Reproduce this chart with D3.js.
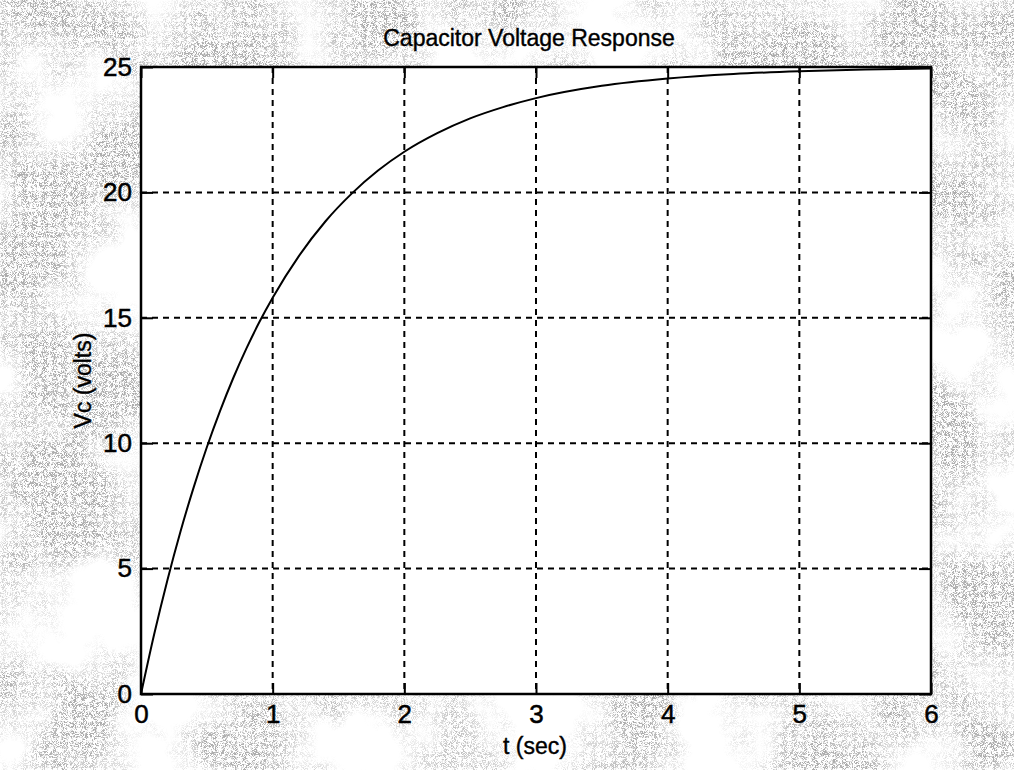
<!DOCTYPE html>
<html>
<head>
<meta charset="utf-8">
<script src="https://cdn.jsdelivr.net/npm/d3@7"></script>
<style>
  body { margin: 0; background: #fff; }
  svg { display: block; font-family: Arial, "Liberation Sans", sans-serif; }
  .tick text { font-family: "Liberation Sans Narrow", Arial, sans-serif; font-size: 26px; fill: #000; stroke: #000; stroke-width: 0.5px; }
  .tick line { stroke: #000; stroke-width: 2px; }
  .lbl { fill: #000; stroke: #000; stroke-width: 0.4px; }
</style>
</head>
<body>
<div id="chart-area"></div>
<script>
// values
const timeSec = [0, 0.1, 0.2, 0.3, 0.4, 0.5, 0.6, 0.7, 0.8, 0.9, 1.0,
  1.2, 1.4, 1.6, 1.8, 2.0, 2.25, 2.5, 2.75, 3.0, 3.5, 4.0, 4.5, 5.0, 5.5, 6.0]
const vcVolts = [0, 2.38, 4.53, 6.48, 8.24, 9.84, 11.28, 12.59, 13.77, 14.84, 15.80,
  17.47, 18.84, 19.95, 20.87, 21.62, 22.36, 22.95, 23.40, 23.76, 24.25, 24.54, 24.72, 24.83, 24.90, 24.94]
const xTicks = [0, 1, 2, 3, 4, 5, 6]
const yTicks = [0, 5, 10, 15, 20, 25]
const titleText = "Capacitor Voltage Response"
const xLabel = "t (sec)"
const yLabel = "Vc (volts)"

const W = 1014
const H = 770
const MARGIN = { LEFT: 141, RIGHT: 83, TOP: 67, BOTTOM: 76 }
const WIDTH = W - MARGIN.LEFT - MARGIN.RIGHT
const HEIGHT = H - MARGIN.TOP - MARGIN.BOTTOM

const svg = d3.select("#chart-area").append("svg")
  .attr("width", W)
  .attr("height", H)

// mottled scanned-paper background
const defs = svg.append("defs")
const f = defs.append("filter").attr("id", "tex")
  .attr("x", 0).attr("y", 0).attr("width", 1).attr("height", 1)
f.append("feTurbulence").attr("type", "fractalNoise")
  .attr("baseFrequency", 0.009).attr("numOctaves", 4).attr("seed", 7).attr("result", "blot")
f.append("feColorMatrix").attr("in", "blot").attr("type", "matrix")
  .attr("values", "0 0 0 0 0.42  0 0 0 0 0.42  0 0 0 0 0.42  3.6 0 0 0 -1.3")
  .attr("result", "blotA")
f.append("feTurbulence").attr("type", "turbulence")
  .attr("baseFrequency", 0.9).attr("numOctaves", 1).attr("seed", 2).attr("result", "grain")
f.append("feColorMatrix").attr("in", "grain").attr("type", "matrix")
  .attr("values", "0 0 0 0 0  0 0 0 0 0  0 0 0 0 0  5 0 0 0 -0.5")
  .attr("result", "grainA")
f.append("feComposite").attr("in", "blotA").attr("in2", "grainA").attr("operator", "in")

svg.append("rect").attr("width", W).attr("height", H).attr("fill", "#fff")
svg.append("rect").attr("width", W).attr("height", H).attr("filter", "url(#tex)")

const g = svg.append("g")
  .attr("transform", `translate(${MARGIN.LEFT}, ${MARGIN.TOP})`)

// scales
const x = d3.scaleLinear().domain([0, 6]).range([0, WIDTH])
const y = d3.scaleLinear().domain([0, 25]).range([HEIGHT, 0])

// plot box
g.append("rect")
  .attr("width", WIDTH)
  .attr("height", HEIGHT)
  .attr("fill", "#fff")

// dashed grid
g.append("g").selectAll("line").data(xTicks.slice(1, -1)).join("line")
  .attr("x1", d => x(d)).attr("x2", d => x(d))
  .attr("y1", 0).attr("y2", HEIGHT)
  .attr("stroke", "#000").attr("stroke-width", 2)
  .attr("stroke-dasharray", "6,5")
g.append("g").selectAll("line").data(yTicks.slice(1, -1)).join("line")
  .attr("x1", 0).attr("x2", WIDTH)
  .attr("y1", d => y(d)).attr("y2", d => y(d))
  .attr("stroke", "#000").attr("stroke-width", 2)
  .attr("stroke-dasharray", "6,5")

// axes with inward ticks
const xAxis = g.append("g")
  .attr("transform", `translate(0, ${HEIGHT})`)
  .call(d3.axisBottom(x).tickValues(xTicks).tickSize(-11).tickPadding(11).tickFormat(d3.format("d")))
const yAxis = g.append("g")
  .call(d3.axisLeft(y).tickValues(yTicks).tickSize(-12).tickPadding(9).tickFormat(d3.format("d")))
g.append("g")
  .call(d3.axisTop(x).tickValues(xTicks).tickSize(-11).tickFormat(""))
g.append("g")
  .attr("transform", `translate(${WIDTH}, 0)`)
  .call(d3.axisRight(y).tickValues(yTicks).tickSize(-12).tickFormat(""))
g.selectAll(".domain").remove()
xAxis.selectAll("text").attr("dy", "0.71em")

// response curve
const line = d3.line()
  .x((d, i) => x(timeSec[i]))
  .y(d => y(d))
  .curve(d3.curveMonotoneX)

g.append("path")
  .attr("fill", "none")
  .attr("stroke", "#000")
  .attr("stroke-width", 2)
  .attr("d", line(vcVolts))

// frame
g.append("rect")
  .attr("width", WIDTH)
  .attr("height", HEIGHT)
  .attr("fill", "none")
  .attr("stroke", "#000")
  .attr("stroke-width", 2.5)

// labels
svg.append("text")
  .attr("class", "lbl")
  .attr("x", MARGIN.LEFT + WIDTH / 2 - 7)
  .attr("y", 46)
  .attr("text-anchor", "middle")
  .attr("font-size", "23px")
  .text(titleText)

svg.append("text")
  .attr("class", "lbl")
  .attr("x", MARGIN.LEFT + WIDTH / 2 - 1)
  .attr("y", 754)
  .attr("text-anchor", "middle")
  .attr("font-size", "23px")
  .text(xLabel)

svg.append("text")
  .attr("class", "lbl")
  .attr("transform", `translate(91, ${MARGIN.TOP + HEIGHT / 2}) rotate(-90)`)
  .attr("text-anchor", "middle")
  .attr("font-size", "23px")
  .text(yLabel)
</script>
</body>
</html>
